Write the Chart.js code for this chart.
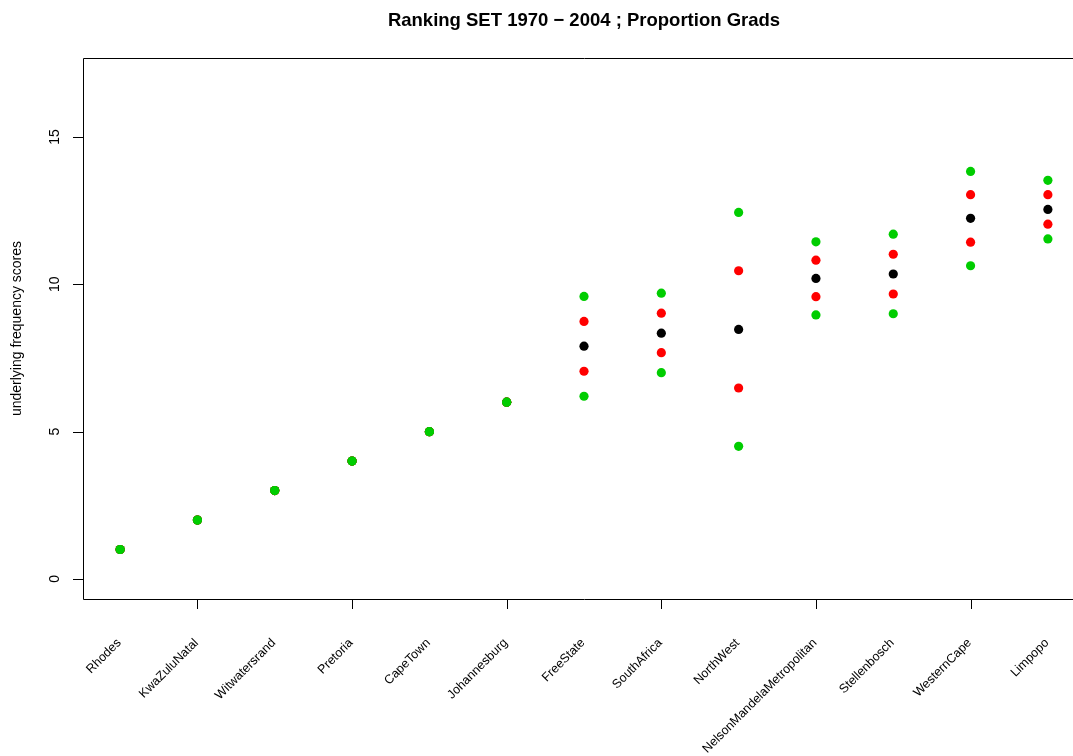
<!DOCTYPE html>
<html lang="en">
<head>
<meta charset="UTF-8">
<title>Ranking SET 1970 - 2004 ; Proportion Grads</title>
<style>
    body { margin: 0; background: #fff; }
    .wrap { width: 1073px; height: 756px; overflow: hidden; }
</style>
</head>
<body>
<div class="wrap"><canvas id="rankChart" width="1090" height="756"></canvas></div>

<script src="https://cdn.jsdelivr.net/npm/chart.js"></script>
<script>
// universities in ranked order (x = 1..13)
const universities = ['Rhodes', 'KwaZuluNatal', 'Witwatersrand', 'Pretoria', 'CapeTown',
    'Johannesburg', 'FreeState', 'SouthAfrica', 'NorthWest', 'NelsonMandelaMetropolitan',
    'Stellenbosch', 'WesternCape', 'Limpopo'];

// scores
const meanScore  = [1, 2, 3, 4, 5, 6, 7.90, 8.34, 8.47, 10.20, 10.35, 12.24, 12.54];
const innerUpper = [1, 2, 3, 4, 5, 6, 8.74, 9.02, 10.46, 10.82, 11.02, 13.04, 13.04];
const innerLower = [1, 2, 3, 4, 5, 6, 7.05, 7.68, 6.48, 9.58, 9.67, 11.43, 12.04];
const outerUpper = [1, 2, 3, 4, 5, 6, 9.59, 9.70, 12.44, 11.44, 11.70, 13.83, 13.53];
const outerLower = [1, 2, 3, 4, 5, 6, 6.20, 7.00, 4.50, 8.96, 9.00, 10.63, 11.54];

const yTicks = [0, 5, 10, 15];
const xTicks = [2, 4, 6, 8, 10, 12];

const toPoints = arr => arr.map((v, i) => ({ x: i + 1, y: v }));

function series(data, color) {
    return {
        data: toPoints(data),
        backgroundColor: color,
        borderColor: color,
        borderWidth: 0,
        pointRadius: 4.6,
        pointHoverRadius: 4.6,
        showLine: false
    };
}

const FONT = '"Liberation Sans", Arial, Helvetica, sans-serif';

// draws the R style box, axes, labels and title
const rAxes = {
    id: 'rAxes',
    afterDraw(chart) {
        const c = chart.ctx;
        const a = chart.chartArea;
        const xs = chart.scales.x, ys = chart.scales.y;
        c.save();
        c.strokeStyle = '#000';
        c.lineWidth = 1;

        // box
        c.beginPath();
        c.moveTo(a.right + 0.5, a.top + 0.5);
        c.lineTo(a.left + 0.5, a.top + 0.5);
        c.lineTo(a.left + 0.5, a.bottom + 0.5);
        c.lineTo(a.right + 0.5, a.bottom + 0.5);
        c.stroke();

        // x ticks
        c.beginPath();
        xTicks.forEach(t => {
            const px = Math.round(xs.getPixelForValue(t)) + 0.5;
            c.moveTo(px, a.bottom);
            c.lineTo(px, a.bottom + 10);
        });
        // y ticks
        yTicks.forEach(t => {
            const py = Math.round(ys.getPixelForValue(t)) + 0.5;
            c.moveTo(a.left, py);
            c.lineTo(a.left - 10, py);
        });
        c.stroke();

        c.fillStyle = '#000';
        // y tick labels, rotated
        c.font = '14px ' + FONT;
        c.textAlign = 'center';
        c.textBaseline = 'middle';
        yTicks.forEach(t => {
            const py = ys.getPixelForValue(t);
            c.save();
            c.translate(55, py);
            c.rotate(-Math.PI / 2);
            c.fillText(String(t), 0, 0);
            c.restore();
        });

        // x category labels at 45 degrees
        c.font = '12.5px ' + FONT;
        c.textAlign = 'right';
        c.textBaseline = 'middle';
        universities.forEach((name, i) => {
            const px = xs.getPixelForValue(i + 1);
            c.save();
            c.translate(px - 1, 641);
            c.rotate(-Math.PI / 4);
            c.fillText(name, 0, 0);
            c.restore();
        });

        // y axis title
        c.font = '14px ' + FONT;
        c.textAlign = 'center';
        c.save();
        c.translate(17, (a.top + a.bottom) / 2);
        c.rotate(-Math.PI / 2);
        c.fillText('underlying frequency scores', 0, 0);
        c.restore();

        // main title
        c.font = 'bold 18.5px ' + FONT;
        c.fillText('Ranking SET 1970 \u2212 2004 ; Proportion Grads', 584, 21);
        c.restore();
    }
};

const chart = new Chart(document.getElementById('rankChart'), {
    type: 'scatter',
    data: {
        datasets: [
            series(outerUpper, '#00CD00'),
            series(outerLower, '#00CD00'),
            series(innerUpper, '#FF0000'),
            series(innerLower, '#FF0000'),
            series(meanScore, '#000000')
        ]
    },
    options: {
        responsive: false,
        animation: false,
        layout: { padding: { left: 83, top: 58, right: 5, bottom: 157 } },
        plugins: {
            legend: { display: false },
            tooltip: { enabled: false },
            title: { display: false }
        },
        scales: {
            x: { type: 'linear', min: 0.52, max: 13.48, display: false },
            y: { type: 'linear', min: -0.68, max: 17.68, display: false }
        }
    },
    plugins: [rAxes]
});
</script>
</body>
</html>
